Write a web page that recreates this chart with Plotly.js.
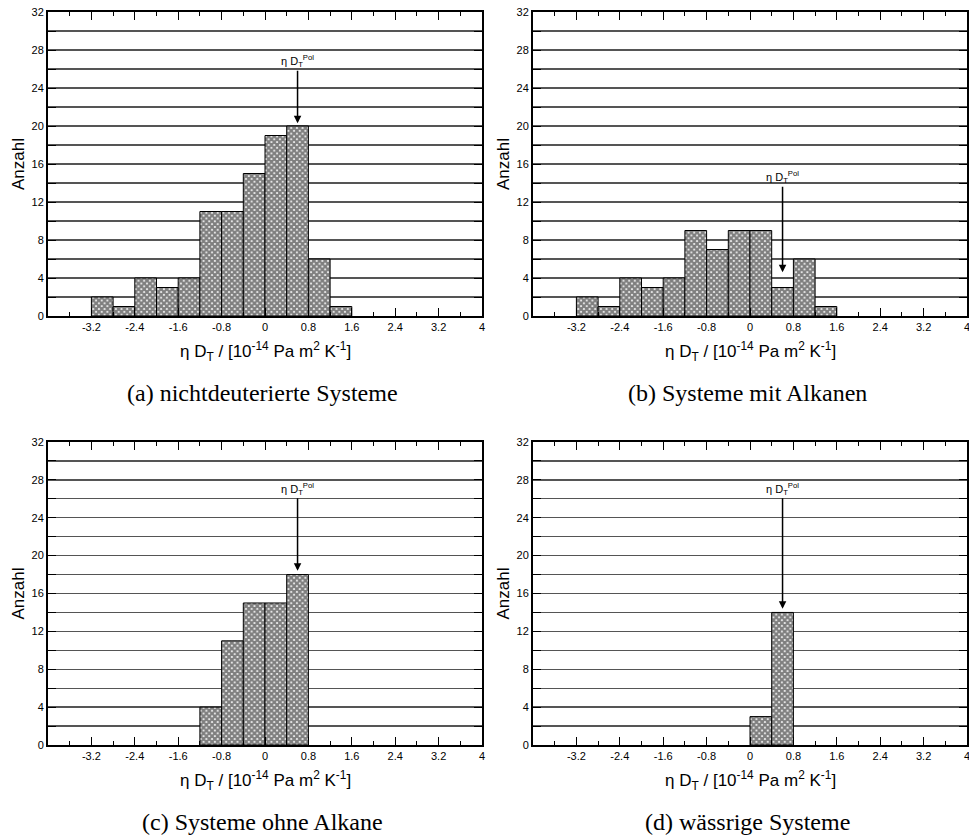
<!DOCTYPE html>
<html>
<head>
<meta charset="utf-8">
<script src="https://cdn.plot.ly/plotly-3.0.1.min.js"></script>
<style>html,body{margin:0;padding:0;background:#fff;}#chart{width:969px;height:838px;}</style>
</head>
<body>
<div id="chart"></div>
<script>
// Bin starts (width 0.4) and counts per panel
const binStartsA = [-3.2, -2.8, -2.4, -2.0, -1.6, -1.2, -0.8, -0.4, 0.0, 0.4, 0.8, 1.2];
const countsA    = [2, 1, 4, 3, 4, 11, 11, 15, 19, 20, 6, 1];
const binStartsB = [-3.2, -2.8, -2.4, -2.0, -1.6, -1.2, -0.8, -0.4, 0.0, 0.4, 0.8, 1.2];
const countsB    = [2, 1, 4, 3, 4, 9, 7, 9, 9, 3, 6, 1];
const binStartsC = [-1.2, -0.8, -0.4, 0.0, 0.4];
const countsC    = [4, 11, 15, 15, 18];
const binStartsD = [0.0, 0.4];
const countsD    = [3, 14];
const binWidth = 0.4;

const xTickVals = [-3.2, -2.4, -1.6, -0.8, 0, 0.8, 1.6, 2.4, 3.2, 4];
const xTickText = ["-3.2", "-2.4", "-1.6", "-0.8", "0", "0.8", "1.6", "2.4", "3.2", "4"];
const captions = ["(a) nichtdeuterierte Systeme", "(b) Systeme mit Alkanen", "(c) Systeme ohne Alkane", "(d) wässrige Systeme"];
const polX = 0.6;
const polArrowY = [20.3, 4.6, 18.4, 14.4];

const W = 969, H = 838;
const panels = [
  {bins: binStartsA, counts: countsA, x0: 48, x1: 482, top: 12, bottom: 316, ay: -62},
  {bins: binStartsB, counts: countsB, x0: 533, x1: 967, top: 12, bottom: 316, ay: -95},
  {bins: binStartsC, counts: countsC, x0: 48, x1: 482, top: 442, bottom: 745, ay: -82},
  {bins: binStartsD, counts: countsD, x0: 533, x1: 967, top: 442, bottom: 745, ay: -120}
];

const font = "Liberation Sans, Arial, sans-serif";
const traces = [];
const layout = {
  width: W, height: H,
  margin: {l: 0, r: 0, t: 0, b: 0},
  paper_bgcolor: "#fff", plot_bgcolor: "#fff",
  showlegend: false, bargap: 0,
  font: {family: font, color: "#000", size: 11},
  annotations: []
};

panels.forEach((p, i) => {
  const n = i === 0 ? "" : String(i + 1);
  traces.push({
    type: "bar",
    x: p.bins, y: p.counts,
    width: p.bins.map(() => binWidth),
    offset: 0,
    xaxis: "x" + n, yaxis: "y" + n,
    marker: {
      color: "#fff",
      line: {color: "#000", width: 1},
      pattern: {shape: "x", fgcolor: "#000", bgcolor: "#fff", size: 4, solidity: 0.8, fillmode: "overlay"}
    },
    hoverinfo: "skip"
  });
  layout["xaxis" + n] = {
    domain: [p.x0 / W, p.x1 / W],
    anchor: "y" + n,
    range: [-4, 4],
    tickmode: "array", tickvals: xTickVals, ticktext: xTickText,
    ticks: "inside", ticklen: 8, tickwidth: 1, tickcolor: "#000",
    minor: {tickmode: "linear", tick0: 0, dtick: 0.4, ticks: "inside", ticklen: 4, tickcolor: "#000", tickwidth: 1},
    showline: true, linecolor: "#000", linewidth: 2, mirror: "ticks",
    showgrid: false, zeroline: false,
    tickfont: {family: font, size: 11, color: "#000"}
  };
  layout["yaxis" + n] = {
    domain: [1 - p.bottom / H, 1 - p.top / H],
    anchor: "x" + n,
    range: [0, 32],
    tickmode: "linear", tick0: 0, dtick: 4,
    ticks: "inside", ticklen: 8, tickwidth: 1, tickcolor: "#000",
    minor: {dtick: 2, ticks: "inside", ticklen: 8, tickcolor: "#000", showgrid: true, gridcolor: "#555", gridwidth: 1.3},
    showgrid: true, gridcolor: "#555", gridwidth: 1.3,
    showline: true, linecolor: "#000", linewidth: 2, mirror: "ticks",
    zeroline: false,
    tickfont: {family: font, size: 11, color: "#000"}
  };
  // Y title
  layout.annotations.push({
    xref: "paper", yref: "paper",
    x: (p.x0 - 30) / W, y: 1 - ((p.top + p.bottom) / 2) / H,
    xanchor: "center", yanchor: "middle",
    text: "Anzahl", textangle: -90, showarrow: false,
    font: {family: font, size: 17, color: "#000"}
  });
  // X title
  layout.annotations.push({
    xref: "paper", yref: "paper",
    x: ((p.x0 + p.x1) / 2) / W, y: 1 - (p.bottom + 35) / H,
    xanchor: "center", yanchor: "middle",
    text: "η D<sub>T</sub> / [10<sup>-14</sup> Pa m<sup>2</sup> K<sup>-1</sup>]",
    showarrow: false,
    font: {family: font, size: 17, color: "#000"}
  });
  // Caption
  layout.annotations.push({
    xref: "paper", yref: "paper",
    x: ((p.x0 + p.x1) / 2 - 3) / W, y: 1 - (p.bottom + 77) / H,
    xanchor: "center", yanchor: "middle",
    text: captions[i], showarrow: false,
    font: {family: "Liberation Serif, DejaVu Serif, serif", size: 24, color: "#000"}
  });
  // Pol arrow
  layout.annotations.push({
    xref: "x" + n, yref: "y" + n,
    x: polX, y: polArrowY[i],
    text: "η D<sub>T</sub><sup>Pol</sup>",
    showarrow: true, arrowhead: 2, arrowsize: 1, arrowwidth: 1.5, arrowcolor: "#000",
    ax: 0, ay: p.ay,
    font: {family: font, size: 11, color: "#000"}
  });
  // Last tick label at the page edge (clipped by Plotly on the right panels)
  if (i % 2 === 1) {
    layout.annotations.push({
      xref: "x" + n, yref: "y" + n,
      x: xTickVals[xTickVals.length - 1], y: 0, yshift: -11,
      xanchor: "center", yanchor: "middle",
      text: xTickText[xTickText.length - 1], showarrow: false,
      font: {family: font, size: 11, color: "#000"}
    });
  }
});

Plotly.newPlot("chart", traces, layout, {staticPlot: true, displayModeBar: false});
</script>
</body>
</html>
